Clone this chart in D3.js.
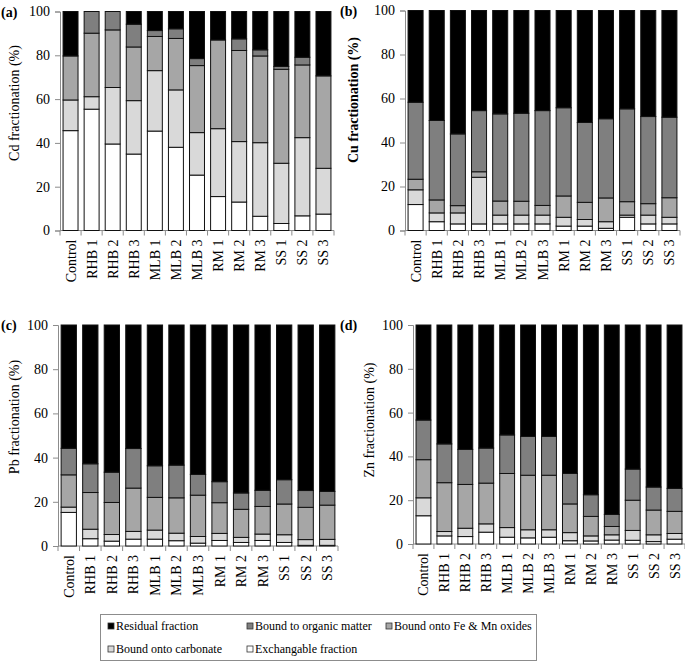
<!DOCTYPE html>
<html>
<head>
<meta charset="utf-8">
<script src="https://cdn.jsdelivr.net/npm/d3@7"></script>
<style>
  html, body { margin: 0; padding: 0; background: #fff; }
  svg text { font-family: "Liberation Serif", "Times New Roman", serif; fill: #000; }
</style>
</head>
<body>
<svg id="chart" width="685" height="664"></svg>
<script>
// ---------- DATA ----------
const categories = ["Control", "RHB 1", "RHB 2", "RHB 3", "MLB 1", "MLB 2", "MLB 3", "RM 1", "RM 2", "RM 3", "SS 1", "SS 2", "SS 3"];
const fractions = ["Exchangable fraction", "Bound onto carbonate", "Bound onto Fe & Mn oxides", "Bound to organic matter", "Residual fraction"];
const yTicks = [0, 20, 40, 60, 80, 100];

// Cd
const cdExchangeable = [45.6, 55.4, 39.5, 34.9, 45.4, 38.0, 25.3, 15.5, 13.0, 6.5, 3.2, 6.7, 7.5];
const cdCarbonate    = [14.0, 5.7, 25.8, 24.4, 27.6, 26.2, 19.4, 31.0, 27.6, 33.6, 27.5, 35.7, 20.9];
const cdFeMn         = [20.1, 29.0, 26.3, 24.5, 15.6, 23.5, 30.6, 40.5, 41.6, 39.6, 42.9, 33.2, 42.2];
const cdOrganic      = [0.0, 9.9, 8.4, 10.4, 2.7, 4.4, 3.2, 0.0, 5.3, 2.8, 1.3, 3.5, 0.0];
const cdResidual     = [20.3, 0.0, 0.0, 5.8, 8.7, 7.9, 21.5, 13.0, 12.5, 17.5, 25.1, 20.9, 29.4];

// Cu
const cuExchangeable = [11.8, 4.0, 3.0, 3.0, 3.0, 3.0, 3.0, 2.0, 2.0, 1.0, 6.0, 3.0, 3.0];
const cuCarbonate    = [6.7, 4.0, 5.0, 21.2, 4.0, 4.0, 4.0, 4.0, 3.0, 3.0, 1.0, 4.0, 3.0];
const cuFeMn         = [4.8, 5.9, 3.3, 2.5, 6.4, 6.3, 4.4, 9.7, 7.8, 10.8, 6.1, 5.2, 8.9];
const cuOrganic      = [35.0, 36.1, 32.6, 27.8, 39.6, 40.0, 43.1, 40.1, 36.3, 36.0, 42.2, 39.6, 36.6];
const cuResidual     = [41.7, 50.0, 56.1, 45.5, 47.0, 46.7, 45.5, 44.2, 50.9, 49.2, 44.7, 48.2, 48.5];

// Pb
const pbExchangeable = [15.2, 3.3, 2.2, 3.1, 3.1, 2.4, 1.3, 2.5, 1.6, 2.5, 1.6, 0.3, 0.3];
const pbCarbonate    = [2.4, 4.3, 3.0, 3.5, 4.1, 3.4, 3.0, 3.2, 2.3, 2.9, 3.5, 2.6, 2.7];
const pbFeMn         = [14.6, 16.6, 14.5, 19.6, 14.8, 16.0, 18.7, 13.9, 12.7, 12.5, 13.9, 14.6, 15.5];
const pbOrganic      = [12.0, 13.0, 13.7, 17.9, 14.3, 14.8, 9.4, 9.5, 7.4, 7.3, 11.0, 7.6, 6.2];
const pbResidual     = [55.8, 62.8, 66.6, 55.9, 63.7, 63.4, 67.6, 70.9, 76.0, 74.8, 70.0, 74.9, 75.3];

// Zn
const znExchangeable = [12.9, 3.7, 3.4, 5.4, 3.1, 2.8, 3.1, 1.5, 1.4, 1.8, 1.7, 1.1, 2.2];
const znCarbonate    = [8.2, 2.0, 3.8, 3.8, 4.4, 3.7, 3.4, 3.7, 2.3, 2.4, 4.5, 3.1, 2.6];
const znFeMn         = [17.4, 22.3, 20.0, 18.6, 24.7, 24.9, 24.9, 13.1, 8.9, 3.8, 13.8, 11.3, 10.1];
const znOrganic      = [18.1, 17.7, 16.0, 16.0, 17.6, 17.7, 17.7, 13.9, 9.9, 5.5, 14.2, 10.5, 10.5];
const znResidual     = [43.4, 54.3, 56.8, 56.2, 50.2, 50.9, 50.9, 67.8, 77.5, 86.5, 65.8, 74.0, 74.6];

// ---------- STYLE ----------
const colors = {
  "Exchangable fraction": "#ffffff",
  "Bound onto carbonate": "#d9d9d9",
  "Bound onto Fe & Mn oxides": "#a6a6a6",
  "Bound to organic matter": "#7f7f7f",
  "Residual fraction": "#000000"
};
const axisGray = "#8c8c8c";

const panels = [
  { tag: "(a)", title: "Cd fractionation (%)", bold: false,
    series: [cdExchangeable, cdCarbonate, cdFeMn, cdOrganic, cdResidual],
    x0: 60, x1: 334, yTop: 11.5, yBot: 230.5, titleX: 19, titleY: 103, tagX: 1 },
  { tag: "(b)", title: "Cu fractionation (%)", bold: true,
    series: [cuExchangeable, cuCarbonate, cuFeMn, cuOrganic, cuResidual],
    x0: 405, x1: 680, yTop: 10.5, yBot: 230.5, titleX: 358, titleY: 100, tagX: 340 },
  { tag: "(c)", title: "Pb fractionation (%)", bold: false,
    series: [pbExchangeable, pbCarbonate, pbFeMn, pbOrganic, pbResidual],
    x0: 58, x1: 338, yTop: 325, yBot: 546, titleX: 19, titleY: 417, tagX: 1 },
  { tag: "(d)", title: "Zn fractionation (%)", bold: false,
    series: [znExchangeable, znCarbonate, znFeMn, znOrganic, znResidual],
    x0: 413, x1: 685, yTop: 325, yBot: 544, titleX: 374, titleY: 420, tagX: 340 }
];

const svg = d3.select("#chart");

panels.forEach(p => {
  const g = svg.append("g");
  const x = d3.scaleBand().domain(categories).range([p.x0, p.x1]).paddingInner(0.29).paddingOuter(0.145);
  const y = d3.scaleLinear().domain([0, 100]).range([p.yBot, p.yTop]);

  const rows = categories.map((c, i) => {
    const r = { cat: c };
    fractions.forEach((f, k) => { r[f] = p.series[k][i]; });
    return r;
  });
  const stack = d3.stack().keys(fractions)(rows);

  // y axis
  const yAxis = d3.axisLeft(y).tickValues(yTicks).tickSize(5).tickPadding(5);
  const ya = g.append("g").attr("transform", `translate(${p.x0},0)`).call(yAxis);
  ya.select(".domain").attr("stroke", axisGray);
  ya.selectAll(".tick line").attr("stroke", axisGray);
  ya.selectAll("text").attr("font-size", 14).attr("font-family", "Liberation Serif");

  // x axis: baseline + boundary ticks
  g.append("line").attr("x1", p.x0).attr("x2", p.x1).attr("y1", p.yBot).attr("y2", p.yBot).attr("stroke", axisGray);
  const step = x.step();
  const bounds = d3.range(categories.length + 1).map(i => p.x0 + (p.x1 - p.x0 - step * categories.length) / 2 + i * step);
  g.selectAll(".xt").data(bounds).enter().append("line")
    .attr("x1", d => d).attr("x2", d => d).attr("y1", p.yBot).attr("y2", p.yBot + 5).attr("stroke", axisGray);

  // bars
  g.selectAll(".layer").data(stack).enter().append("g")
    .attr("fill", d => colors[d.key])
    .selectAll("rect").data(d => d).enter().append("rect")
    .attr("x", d => x(d.data.cat))
    .attr("width", x.bandwidth())
    .attr("y", d => y(d[1]))
    .attr("height", d => Math.max(0, y(d[0]) - y(d[1])))
    .attr("stroke", "#111")
    .attr("stroke-width", 1);

  // category labels
  g.selectAll(".xl").data(categories).enter().append("text")
    .attr("transform", d => `translate(${x(d) + x.bandwidth() / 2 + 5},${p.yBot + 9}) rotate(-90)`)
    .attr("text-anchor", "end")
    .attr("font-size", 14)
    .text(d => d);

  // axis title
  g.append("text")
    .attr("transform", `translate(${p.titleX},${p.titleY}) rotate(-90)`)
    .attr("text-anchor", "middle")
    .attr("font-size", 14)
    .attr("font-weight", p.bold ? "bold" : "normal")
    .text(p.title);

  // panel tag
  g.append("text")
    .attr("x", p.tagX).attr("y", p.yTop + 5)
    .attr("font-size", 14).attr("font-weight", "bold")
    .text(p.tag);
});

// ---------- LEGEND ----------
const legendItems = [
  { key: "Residual fraction", col: 0, row: 0 },
  { key: "Bound to organic matter", col: 1, row: 0 },
  { key: "Bound onto Fe & Mn oxides", col: 2, row: 0 },
  { key: "Bound onto carbonate", col: 0, row: 1 },
  { key: "Exchangable fraction", col: 1, row: 1 }
];
const lg = svg.append("g");
lg.append("rect").attr("x", 100.5).attr("y", 614.5).attr("width", 436).attr("height", 46)
  .attr("fill", "#fff").attr("stroke", "#8c8c8c");
const colX = [108, 247, 386];
const rowY = [629, 652];
legendItems.forEach(it => {
  lg.append("rect").attr("x", colX[it.col]).attr("y", rowY[it.row] - 6).attr("width", 6).attr("height", 6)
    .attr("fill", colors[it.key]).attr("stroke", "#333").attr("stroke-width", 0.8);
  lg.append("text").attr("x", colX[it.col] + 8).attr("y", rowY[it.row] + 1)
    .attr("font-size", 12).text(it.key);
});
</script>
</body>
</html>
